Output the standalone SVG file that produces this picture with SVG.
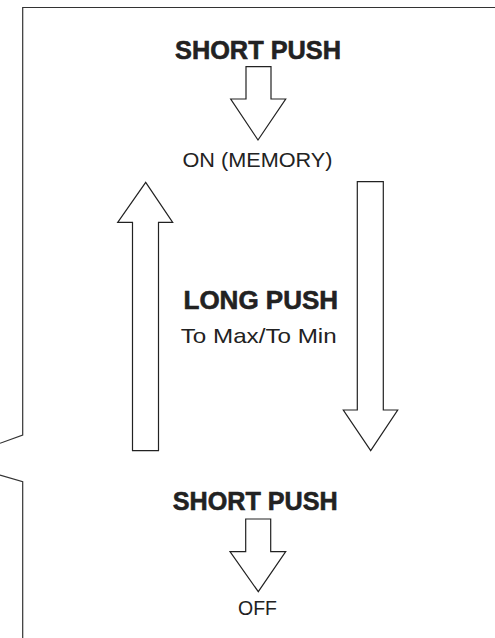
<svg xmlns="http://www.w3.org/2000/svg" width="495" height="638" viewBox="0 0 495 638">
  <style>
    .frame { fill: none; stroke: #333; stroke-width: 1.2; }
    .arrow { fill: #fff; stroke: #222; stroke-width: 1.2; stroke-linejoin: miter; }
    .bold { font-family: "Liberation Sans", Arial, sans-serif; font-weight: bold; font-size: 26px; fill: #222; stroke: #222; stroke-width: 0.6; text-anchor: middle; }
    .reg { font-family: "Liberation Sans", Arial, sans-serif; font-size: 21px; fill: #222; text-anchor: middle; }
  </style>
  <rect width="495" height="638" fill="#fff"/>

  <!-- panel frame with the break on the left edge -->
  <g id="frame">
    <polyline class="frame" points="495,7.5 22.7,7.5 22.7,435 0,443.3"/>
    <polyline class="frame" points="0,475 22.7,481.7 22.7,638"/>
  </g>

  <g id="connectors">
    <!-- short push: off to on -->
    <polygon class="arrow" points="246,66.7 271,66.7 271,99 285.7,99 258,140 230.7,99 246,99"/>
    <!-- long push: dim up -->
    <polygon class="arrow" points="132.5,450.7 158.5,450.7 158.5,222.3 172.7,222.3 145.7,182.3 117.7,222.3 132.5,222.3"/>
    <!-- long push: dim down -->
    <polygon class="arrow" points="357.3,181.7 383.3,181.7 383.3,410 397.7,410 370.7,450.7 343.3,410 357.3,410"/>
    <!-- short push: on to off -->
    <polygon class="arrow" points="245.7,519 270.7,519 270.7,551.7 285.7,551.7 258.3,591.7 230,551.7 245.7,551.7"/>
  </g>

  <g id="short-push-on">
    <text class="bold" x="258" y="59" textLength="166" lengthAdjust="spacingAndGlyphs">SHORT PUSH</text>
  </g>
  <g id="on-memory">
    <text class="reg" x="257.5" y="166.7" textLength="150" lengthAdjust="spacingAndGlyphs">ON (MEMORY)</text>
  </g>
  <g id="long-push">
    <text class="bold" x="260.8" y="309.3">LONG PUSH</text>
    <text class="reg" x="258.7" y="343.3" font-size="22" textLength="156" lengthAdjust="spacingAndGlyphs">To Max/To Min</text>
  </g>
  <g id="short-push-off">
    <text class="bold" x="255.2" y="510" textLength="165" lengthAdjust="spacingAndGlyphs">SHORT PUSH</text>
  </g>
  <g id="off">
    <text class="reg" x="257.5" y="615" textLength="39" lengthAdjust="spacingAndGlyphs">OFF</text>
  </g>
</svg>
